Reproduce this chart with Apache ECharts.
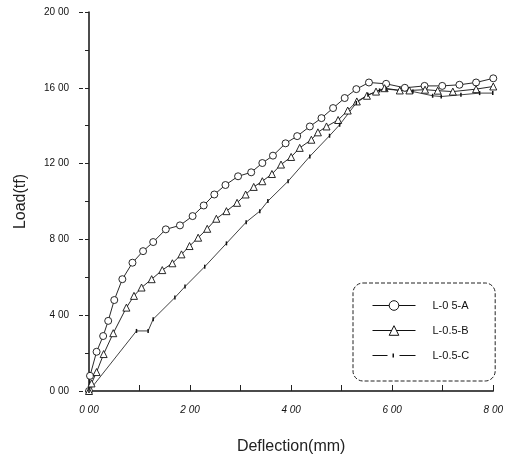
<!DOCTYPE html>
<html>
<head>
<meta charset="utf-8">
<script src="https://cdn.jsdelivr.net/npm/echarts@6/dist/echarts.min.js"></script>
<style>
  html, body { margin: 0; padding: 0; background: #fff; }
  #main { width: 506px; height: 460px; }
</style>
</head>
<body>
<div id="main"></div>
<script>
// load–deflection curves
var seriesNames = ['L-0 5-A', 'L-0.5-B', 'L-0.5-C'];

var xTickLabels = ['0 00', '2 00', '4 00', '6 00', '8 00'];
var yTickLabels = ['0 00', '4 00', '8 00', '12 00', '16 00', '20 00'];

var aX = [0, 0.02, 0.15, 0.28, 0.38, 0.5, 0.66, 0.86, 1.07, 1.27, 1.52, 1.8, 2.05, 2.27, 2.48, 2.7, 2.95, 3.21, 3.43, 3.64, 3.89, 4.12, 4.37, 4.6, 4.83, 5.06, 5.29, 5.54, 5.88, 6.25, 6.64, 6.99, 7.33, 7.66, 8.0];
var aY = [0, 0.8, 2.07, 2.9, 3.7, 4.8, 5.9, 6.77, 7.38, 7.86, 8.53, 8.74, 9.23, 9.79, 10.37, 10.87, 11.33, 11.54, 12.03, 12.42, 13.07, 13.45, 13.96, 14.4, 14.93, 15.46, 15.93, 16.28, 16.21, 16.0, 16.1, 16.1, 16.16, 16.28, 16.5];

var bX = [0, 0.05, 0.15, 0.29, 0.48, 0.74, 0.89, 1.04, 1.24, 1.45, 1.65, 1.83, 1.99, 2.16, 2.34, 2.52, 2.72, 2.93, 3.1, 3.26, 3.43, 3.62, 3.8, 4.0, 4.17, 4.4, 4.53, 4.7, 4.93, 5.12, 5.3, 5.5, 5.68, 5.85, 6.15, 6.34, 6.65, 6.9, 7.2, 7.66, 8.0];
var bY = [0, 0.4, 1.0, 1.95, 3.05, 4.4, 5.02, 5.46, 5.9, 6.38, 6.74, 7.21, 7.65, 8.09, 8.56, 9.09, 9.49, 9.93, 10.37, 10.77, 11.07, 11.45, 11.95, 12.35, 12.83, 13.26, 13.65, 13.96, 14.3, 14.8, 15.28, 15.58, 15.8, 15.98, 15.86, 15.86, 15.9, 15.85, 15.8, 15.93, 16.07];

var cX = [0, 0.94, 1.17, 1.27, 1.7, 1.9, 2.29, 2.72, 3.11, 3.38, 3.54, 3.94, 4.37, 4.76, 4.96, 5.29, 5.52, 5.75, 5.88, 6.41, 6.8, 6.97, 7.36, 7.73, 7.99];
var cY = [0, 3.17, 3.17, 3.79, 4.93, 5.51, 6.56, 7.79, 8.91, 9.49, 10.02, 11.07, 12.38, 13.47, 14.05, 15.2, 15.63, 15.86, 15.93, 15.8, 15.58, 15.54, 15.63, 15.72, 15.72];

function pairs(xs, ys) {
    var d = [];
    for (var i = 0; i < xs.length; i++) d.push([xs[i], ys[i]]);
    return d;
}

var chart = echarts.init(document.getElementById('main'));

var option = {
    animation: false,
    backgroundColor: '#fff',
    grid: { left: 89, right: 12, top: 12, bottom: 68 },
    legend: {
        data: [
            { name: seriesNames[0] },
            { name: seriesNames[1] },
            // dash - tick - dash, like the scanned key
            { name: seriesNames[2], icon: 'path://M0,5.5h15v1h-15z M20,4h1.5v4h-1.5z M27,5.5h16v1h-16z' }
        ],
        orient: 'vertical',
        left: 353,
        top: 283,
        padding: [17, 26, 20, 19],
        itemWidth: 43,
        itemHeight: 12,
        itemGap: 14,
        itemStyle: { borderWidth: 1 },
        lineStyle: { width: 1 },
        borderColor: '#222',
        borderWidth: 1,
        borderType: 'dashed',
        borderRadius: 10,
        backgroundColor: '#fff',
        textStyle: { fontFamily: 'Liberation Sans', fontSize: 11, color: '#111', padding: [0, 0, 0, 12] }
    },
    xAxis: {
        type: 'value',
        min: 0, max: 8, interval: 1,
        name: 'Deflection(mm)',
        nameLocation: 'middle',
        nameGap: 48,
        nameTextStyle: { fontFamily: 'Liberation Sans', fontSize: 16, color: '#222' },
        axisLine: { lineStyle: { color: '#111', width: 1.5 } },
        axisTick: { inside: true, length: 6, lineStyle: { color: '#222' } },
        axisLabel: {
            margin: 14,
            fontFamily: 'Liberation Sans', fontSize: 10, fontStyle: 'italic', color: '#111',
            formatter: function (v) { return v % 2 === 0 ? xTickLabels[v / 2] : ''; }
        },
        splitLine: { show: false }
    },
    yAxis: {
        type: 'value',
        min: 0, max: 20, interval: 4,
        name: 'Load(tf)',
        nameLocation: 'middle',
        nameGap: 60,
        nameTextStyle: { fontFamily: 'Liberation Sans', fontSize: 16, color: '#222' },
        axisLine: { lineStyle: { color: '#111', width: 1.5 } },
        axisTick: { length: 10, lineStyle: { color: '#222', type: 'dashed' } },
        minorTick: { show: true, splitNumber: 2, length: 4, lineStyle: { color: '#222' } },
        axisLabel: {
            margin: 20,
            fontFamily: 'Liberation Sans', fontSize: 10, color: '#111',
            formatter: function (v) { return yTickLabels[v / 4]; }
        },
        splitLine: { show: false }
    },
    series: [
        {
            name: seriesNames[0],
            type: 'line',
            data: pairs(aX, aY),
            symbol: 'circle',
            symbolSize: 7,
            showAllSymbol: true,
            lineStyle: { color: '#111', width: 0.9 },
            itemStyle: { color: '#fff', borderColor: '#111', borderWidth: 0.9 }
        },
        {
            name: seriesNames[1],
            type: 'line',
            data: pairs(bX, bY),
            symbol: 'triangle',
            symbolSize: 7,
            showAllSymbol: true,
            lineStyle: { color: '#111', width: 0.9 },
            itemStyle: { color: '#fff', borderColor: '#111', borderWidth: 0.9 }
        },
        {
            name: seriesNames[2],
            type: 'line',
            data: pairs(cX, cY),
            symbol: 'rect',
            symbolSize: [1.5, 4],
            showAllSymbol: true,
            lineStyle: { color: '#111', width: 0.8 },
            itemStyle: { color: '#111' }
        }
    ]
};

chart.setOption(option);
</script>
</body>
</html>
